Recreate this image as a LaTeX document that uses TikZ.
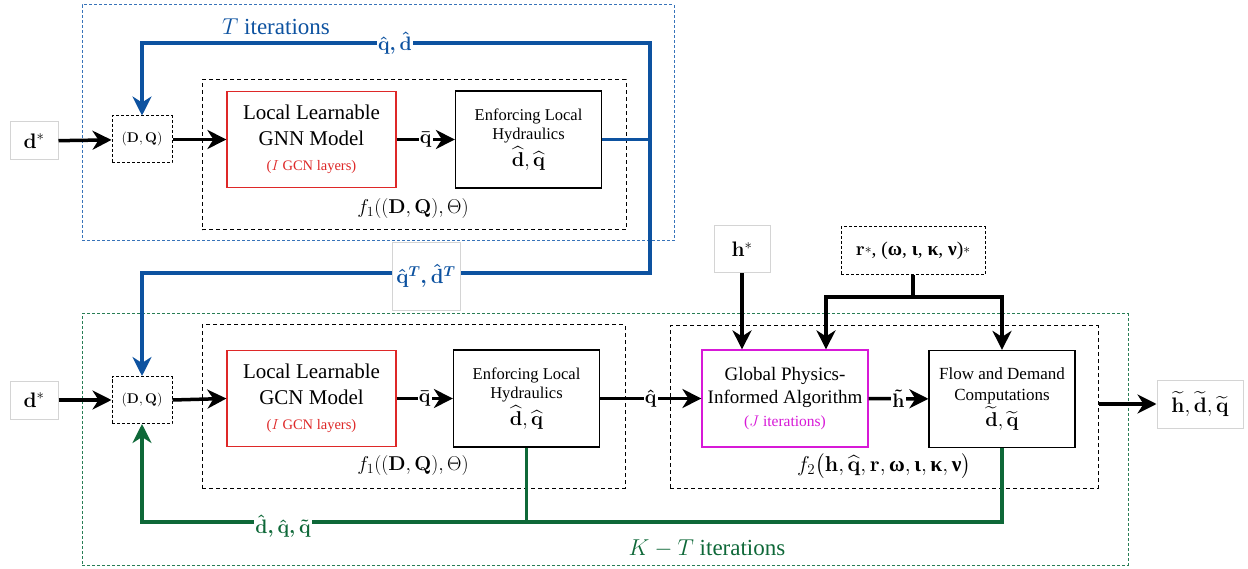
\RequirePackage{fix-cm}
\documentclass[tikz,border=0pt]{standalone}
\usepackage{amsmath}
\usepackage{bm}
\usepackage[no-math]{fontspec}
\setmainfont{Liberation Serif}
\usetikzlibrary{arrows.meta,calc}
\definecolor{bblue}{RGB}{13,82,160}
\definecolor{dgreen}{RGB}{14,104,56}
\definecolor{rred}{RGB}{222,40,40}
\definecolor{mag}{RGB}{215,25,215}
\definecolor{lgrey}{RGB}{212,212,212}
\definecolor{oblue}{RGB}{55,115,185}
\definecolor{ogreen}{RGB}{40,125,85}
\newcommand{\gk}[1]{\text{\normalfont\bfseries #1}}
\tikzset{
  ar/.style={line width=3.5pt,-{Stealth[length=19pt,width=19pt,inset=6pt]}},
  ln/.style={line width=3.5pt},
  bar/.style={ar,draw=bblue},
  bln/.style={ln,draw=bblue},
  gar/.style={ar,draw=dgreen},
  gln/.style={ln,draw=dgreen},
  frame/.style={draw,rectangle,inner sep=0pt,fill=none},
  bouter/.style={frame,draw=oblue,line width=1pt,dash pattern=on 3pt off 2pt},
  gouter/.style={frame,draw=ogreen,line width=1pt,dash pattern=on 3pt off 2pt},
  inner/.style={frame,draw=black,line width=1pt,dash pattern=on 4pt off 3pt},
  dqbox/.style={frame,draw=black,line width=1pt,dash pattern=on 3pt off 2pt,fill=white,
    minimum width=60pt,minimum height=47pt,font=\fontsize{14}{16}\selectfont},
  gbox/.style={draw=lgrey,line width=1pt,fill=white,inner sep=0pt,font=\fontsize{21}{24}\selectfont},
  redbox/.style={draw=rred,line width=1.2pt,fill=white,align=center,inner sep=0pt,
    minimum width=169pt,minimum height=96pt,font=\fontsize{21}{26}\selectfont},
  blkbox/.style={draw=black,line width=1.2pt,fill=white,align=center,inner sep=0pt,
    minimum width=146pt,minimum height=97pt},
  magbox/.style={draw=mag,line width=1.2pt,fill=white,align=center,inner sep=0pt,
    minimum width=166pt,minimum height=97pt,font=\fontsize{19}{23}\selectfont},
  lab/.style={fill=white,inner sep=1pt,font=\fontsize{19.5}{22}\selectfont\boldmath},
  math/.style={font=\fontsize{20}{24}\selectfont},
}
\begin{document}
\begin{tikzpicture}[x=1pt,y=-1pt]
\useasboundingbox (0,0) rectangle (1248,569);
% outer frames
\node[bouter,minimum width=592pt,minimum height=236pt] (bo) at (378,123) {};
\node[gouter,minimum width=1046pt,minimum height=251pt] (go) at (605,439.5) {};
% inner dashed frames
\node[inner,minimum width=424pt,minimum height=150pt] (f1a) at (414,155) {};
\node[inner,minimum width=423pt,minimum height=163pt] (f1b) at (413.5,406.5) {};
\node[inner,minimum width=428pt,minimum height=162pt] (f2) at (884,407) {};
% titles
\node[font=\fontsize{23}{27}\selectfont,text=bblue] (tit) at (276,27) {$T$ iterations};
\node[font=\fontsize{23}{27}\selectfont,text=dgreen] (kt) at (707,549) {$K-T$ iterations};
\node[math] (f1la) at (413,209) {$f_1((\mathbf{D},\mathbf{Q}),\Theta)$};
\node[math] (f1lb) at (413,465) {$f_1((\mathbf{D},\mathbf{Q}),\Theta)$};
\node[font=\fontsize{21.5}{24}\selectfont] (f2l) at (884,466) {$f_2\big(\mathbf{h},\widehat{\mathbf{q}},\mathbf{r},\gk{ω},\gk{ι},\gk{κ},\gk{ν}\big)$};
% top row
\node[gbox,minimum width=48pt,minimum height=38pt] (d1) at (34,141) {$\mathbf{d}^*$};
\node[dqbox] (dq1) at (142,139.5) {$(\mathbf{D},\mathbf{Q})$};
\node[redbox] (red1) at (311.5,139.5) {Local Learnable\\GNN Model\\[-1pt]{\fontsize{14.5}{16}\selectfont\color{rred}($I$ GCN layers)}};
\node[blkbox,font=\fontsize{16.5}{19}\selectfont] (enf1) at (528.5,139.5) {Enforcing Local\\Hydraulics\\[3pt]{\fontsize{20}{22}\selectfont$\widehat{\mathbf{d}},\widehat{\mathbf{q}}$}};
% bottom row
\node[gbox,minimum width=48pt,minimum height=38pt] (d2) at (34,400) {$\mathbf{d}^*$};
\node[dqbox] (dq2) at (142,400) {$(\mathbf{D},\mathbf{Q})$};
\node[redbox] (red2) at (311.5,398.5) {Local Learnable\\GCN Model\\[-1pt]{\fontsize{14.5}{16}\selectfont\color{rred}($I$ GCN layers)}};
\node[blkbox,font=\fontsize{16.5}{19}\selectfont] (enf2) at (526.5,398.5) {Enforcing Local\\Hydraulics\\[3pt]{\fontsize{20}{22}\selectfont$\widehat{\mathbf{d}},\widehat{\mathbf{q}}$}};
\node[magbox] (glob) at (785,398.5) {Global Physics-\\Informed Algorithm\\[0pt]{\fontsize{15.5}{17}\selectfont\color{mag}($J$ iterations)}};
\node[blkbox,font=\fontsize{17}{21}\selectfont] (flow) at (1002,399) {Flow and Demand\\Computations\\[2pt]{\fontsize{20}{22}\selectfont$\widetilde{\mathbf{d}},\widetilde{\mathbf{q}}$}};
\node[gbox,minimum width=56pt,minimum height=47pt] (hs) at (742,249.5) {$\mathbf{h}^*$};
\node[dqbox,minimum width=144pt,minimum height=48pt,font=\fontsize{19.5}{22}\selectfont] (rs) at (913,251) {$\mathbf{r}$\raisebox{0.2ex}{$\scriptstyle\ast$}, (\textbf{ω}, \textbf{ι}, \textbf{κ}, \textbf{ν})\raisebox{0.2ex}{$\scriptstyle\ast$}};
\node[gbox,minimum width=86pt,minimum height=48pt] (out) at (1200,404) {$\widetilde{\mathbf{h}},\widetilde{\mathbf{d}},\widetilde{\mathbf{q}}$};
% coordinates
\coordinate (bj) at (650,139.5);
\coordinate (bT) at (650,43);
\coordinate (bB) at (650,273);
\coordinate (gc) at (526.5,522);
\coordinate (rj) at (913,297);
\coordinate (rl) at (826,297);
\coordinate (rr) at (1002,297);
% black arrows top
\draw[ar] (d1) -- (dq1);
\draw[ar] (dq1) -- (red1);
\draw[ar] (red1) -- node[lab,text=black]{$\bar{\mathbf{q}}$} (enf1);
% black arrows bottom
\draw[ar] (d2) -- (dq2);
\draw[ar] (dq2.east) -- (red2.west);
\draw[ar] (red2) -- node[lab,text=black]{$\bar{\mathbf{q}}$} (enf2);
\draw[ar] (enf2) -- node[lab,text=black]{$\hat{\mathbf{q}}$} (glob);
\draw[ar] (glob) -- node[lab,text=black]{$\tilde{\mathbf{h}}$} (flow);
\draw[ar] (out.west -| f2.east) -- (out.west);
\draw[ar] (hs.south) -- (hs.south |- glob.north);
\draw[ln] (rs.south) -- (rj);
\draw[ar] (rj) -- (rl) -- (rl |- glob.north);
\draw[ar] (rj) -- (rr) -- (flow.north);
% blue loops
\draw[bar] (enf1.east) -- (bj) -- (bT) -| (dq1.north);
\draw[bar] (bj) -- (bB) -| (dq2.north);
\node[lab,text=bblue] (qd) at (395,43) {$\hat{\mathbf{q}},\hat{\mathbf{d}}$};
\node[draw=lgrey,line width=0.8pt,fill=white,minimum width=68pt,minimum height=68pt,inner sep=0pt,text=bblue,font=\fontsize{20.5}{24}\selectfont\boldmath] (qdT) at (426,276) {$\hat{\mathbf{q}}^T,\hat{\mathbf{d}}^T$};
% green loop
\draw[gln] (enf2.south) -- (gc);
\draw[gar] (flow.south) |- (gc) -| (dq2.south);
\node[lab,text=dgreen] (gl) at (283,526) {$\hat{\mathbf{d}},\hat{\mathbf{q}},\tilde{\mathbf{q}}$};
\end{tikzpicture}
\end{document}
